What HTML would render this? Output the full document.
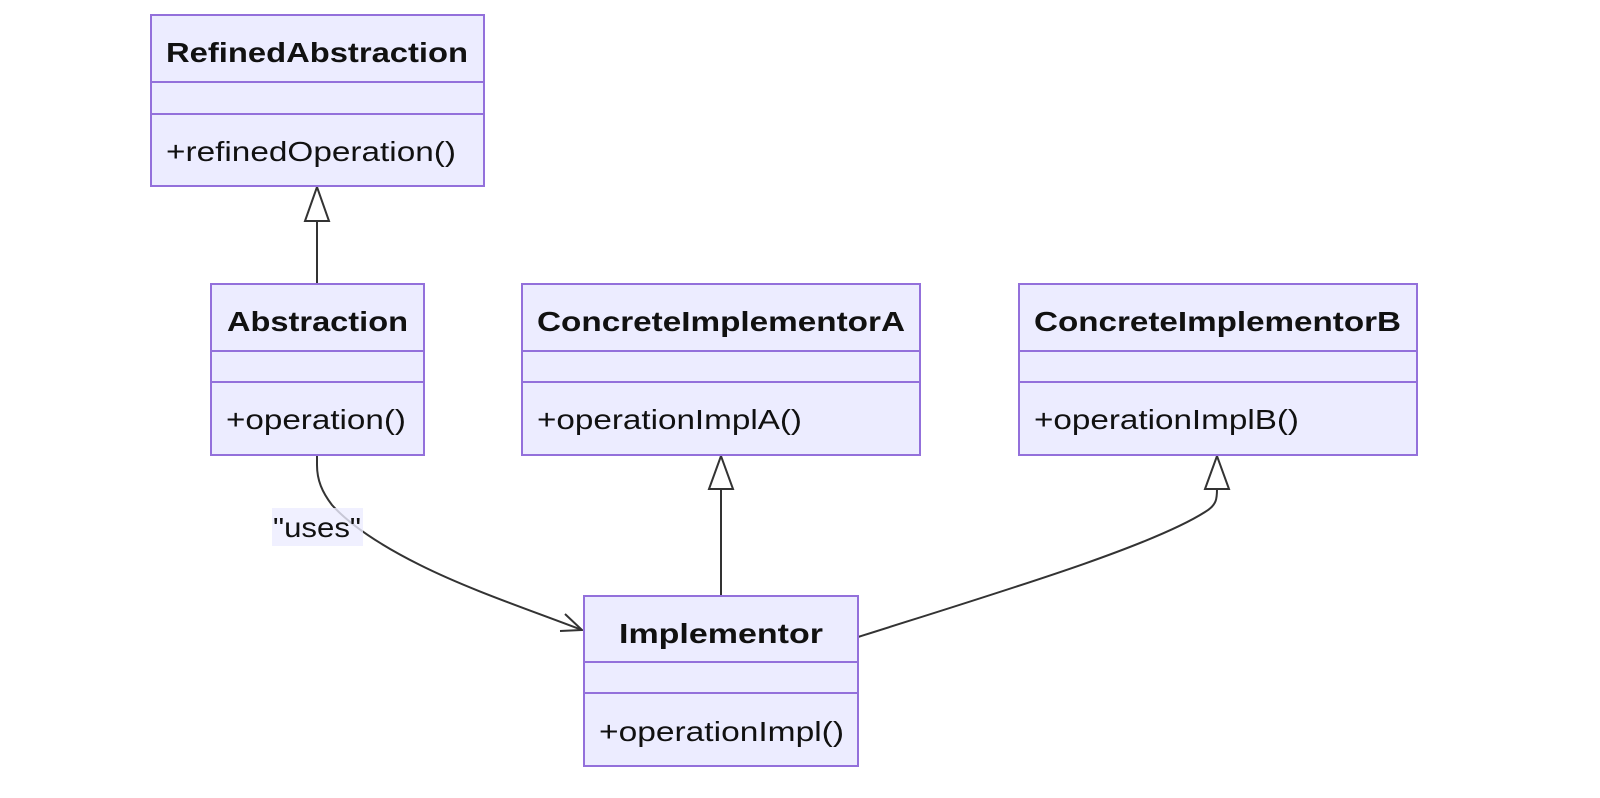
<!DOCTYPE html>
<html><head><meta charset="utf-8"><style>
html,body{margin:0;padding:0;background:#fff;}
svg{display:block;}
text{font-family:"Liberation Sans","DejaVu Sans",sans-serif;fill:#111;}
.t{font-weight:bold;font-size:28px;}
.m{font-size:28px;}
.box{fill:#ececff;stroke:#9370db;stroke-width:2;}
.ln{stroke:#9370db;stroke-width:2;}
.e{fill:none;stroke:#333;stroke-width:2;}
.tri{fill:#fff;stroke:#333;stroke-width:2;}
</style></head><body>
<svg width="1600" height="798" viewBox="0 0 1600 798" xmlns="http://www.w3.org/2000/svg">
<path class="e" d="M317,284 L317,221"/>
<polygon class="tri" points="317,187 305,221 329,221"/>
<path class="e" d="M721,596 L721,489"/>
<polygon class="tri" points="721,456 709,489 733,489"/>
<path class="e" d="M858,637 C1000,592 1150,547 1205,512 C1217,505 1217,498 1217,489"/>
<polygon class="tri" points="1217,456 1205,489 1229,489"/>
<path class="e" d="M317,455 L317,465 C317,480 322,492 332,505 C350,525 380,545 420,565 C470,590 530,610 582,630"/>
<path class="e" d="M565,614 L582,630 L560,631"/>
<rect x="272" y="508" width="91" height="38" fill="#ececff" opacity="0.8"/>
<text class="m" x="273" y="537" textLength="88" lengthAdjust="spacingAndGlyphs">"uses"</text>

<rect class="box" x="151" y="15" width="333" height="171"/>
<line class="ln" x1="151" y1="82" x2="484" y2="82"/>
<line class="ln" x1="151" y1="114" x2="484" y2="114"/>
<text class="t" x="166" y="62" textLength="302" lengthAdjust="spacingAndGlyphs">RefinedAbstraction</text>
<text class="m" x="166" y="161" textLength="290" lengthAdjust="spacingAndGlyphs">+refinedOperation()</text>

<rect class="box" x="211" y="284" width="213" height="171"/>
<line class="ln" x1="211" y1="351" x2="424" y2="351"/>
<line class="ln" x1="211" y1="382" x2="424" y2="382"/>
<text class="t" x="227" y="331" textLength="181" lengthAdjust="spacingAndGlyphs">Abstraction</text>
<text class="m" x="226" y="429" textLength="180" lengthAdjust="spacingAndGlyphs">+operation()</text>

<rect class="box" x="522" y="284" width="398" height="171"/>
<line class="ln" x1="522" y1="351" x2="920" y2="351"/>
<line class="ln" x1="522" y1="382" x2="920" y2="382"/>
<text class="t" x="537" y="331" textLength="368" lengthAdjust="spacingAndGlyphs">ConcreteImplementorA</text>
<text class="m" x="537" y="429" textLength="265" lengthAdjust="spacingAndGlyphs">+operationImplA()</text>

<rect class="box" x="1019" y="284" width="398" height="171"/>
<line class="ln" x1="1019" y1="351" x2="1417" y2="351"/>
<line class="ln" x1="1019" y1="382" x2="1417" y2="382"/>
<text class="t" x="1034" y="331" textLength="367" lengthAdjust="spacingAndGlyphs">ConcreteImplementorB</text>
<text class="m" x="1034" y="429" textLength="265" lengthAdjust="spacingAndGlyphs">+operationImplB()</text>

<rect class="box" x="584" y="596" width="274" height="170"/>
<line class="ln" x1="584" y1="662" x2="858" y2="662"/>
<line class="ln" x1="584" y1="693" x2="858" y2="693"/>
<text class="t" x="619" y="643" textLength="204" lengthAdjust="spacingAndGlyphs">Implementor</text>
<text class="m" x="599" y="741" textLength="245" lengthAdjust="spacingAndGlyphs">+operationImpl()</text>
</svg>
</body></html>
